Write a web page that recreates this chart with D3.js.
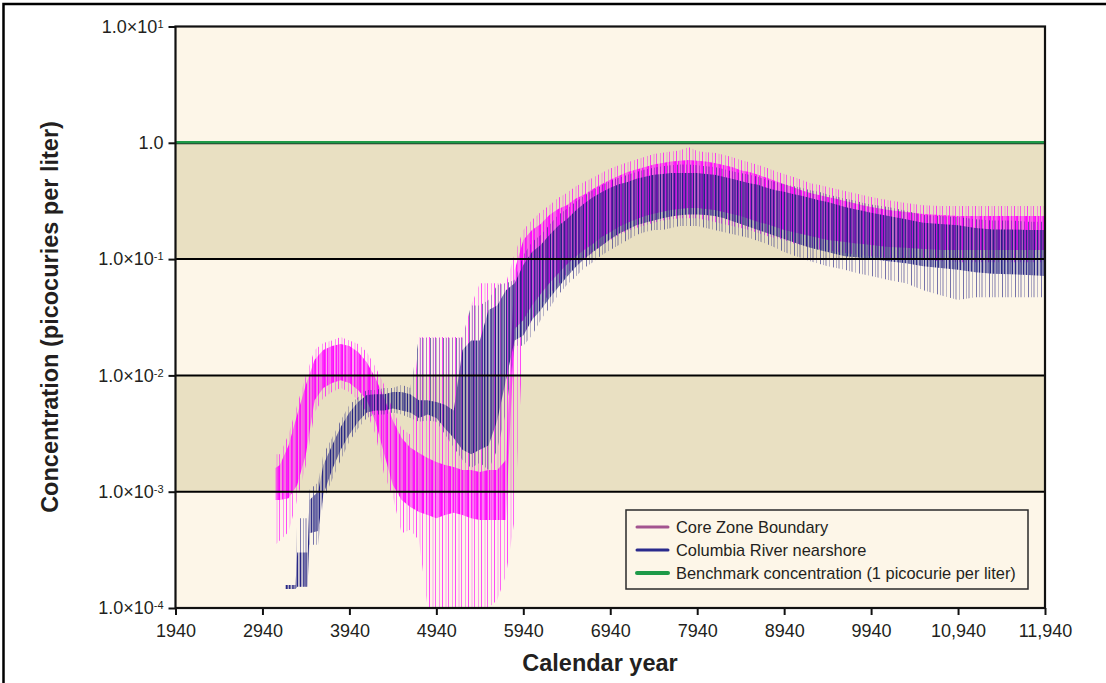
<!DOCTYPE html>
<html><head><meta charset="utf-8">
<script src="https://cdn.jsdelivr.net/npm/d3@7"></script>
<style>
body{margin:0;background:#fff;}
svg{display:block;font-family:"Liberation Sans",Arial,Helvetica,sans-serif;}
</style></head>
<body><svg id="c" width="1106" height="683"></svg>
<script>
// ---------------- data ----------------
const coreYears = [3090,3140,3240,3340,3440,3540,3640,3740,3840,3940,
4040,4140,4240,4340,4440,4540,4640,4740,4840,4940,
5040,5140,5240,5340,5440,5540,5640,5740,5840,5940,
6040,6140,6240,6340,6440,6540,6640,6740,6840,6940,
7040,7140,7240,7340,7440,7540,7640,7740,7840,7940,
8040,8140,8240,8340,8440,8540,8640,8740,8840,8940,
9040,9140,9240,9340,9440,9540,9640,9740,9840,9940,
10140,10340,10540,10740,10940,11140,11340,11540,11740,11940];
const coreLow = [8.5e-4,8.5e-4,8.8e-4,1.14e-3,2.1e-3,6.1e-3,7.8e-3,8.6e-3,9.1e-3,8.6e-3,
7.5e-3,6.1e-3,4.0e-3,2.1e-3,1.14e-3,8.5e-4,7.4e-4,6.7e-4,6.3e-4,5.9e-4,
6.3e-4,6.6e-4,6.3e-4,5.9e-4,5.7e-4,5.7e-4,5.7e-4,5.7e-4,0.025,0.03,
0.04,0.05,0.062,0.075,0.09,0.105,0.12,0.135,0.155,0.17,
0.19,0.205,0.22,0.235,0.245,0.255,0.265,0.27,0.275,0.275,
0.27,0.264,0.254,0.244,0.235,0.221,0.208,0.20,0.189,0.178,
0.171,0.164,0.158,0.152,0.146,0.143,0.140,0.137,0.135,0.132,
0.127,0.125,0.122,0.12,0.12,0.12,0.12,0.12,0.12,0.12];
const coreHigh = [1.6e-3,1.7e-3,2.5e-3,4.6e-3,8.3e-3,0.0136,0.0165,0.0179,0.0186,0.0179,
0.0159,0.013,9.5e-3,6.4e-3,4.1e-3,2.9e-3,2.4e-3,2.15e-3,1.95e-3,1.8e-3,
1.7e-3,1.63e-3,1.54e-3,1.54e-3,1.48e-3,1.54e-3,1.54e-3,1.87e-3,0.08,0.146,
0.178,0.20,0.239,0.27,0.29,0.33,0.36,0.40,0.44,0.48,
0.52,0.56,0.59,0.62,0.65,0.67,0.69,0.70,0.71,0.70,
0.69,0.67,0.645,0.62,0.58,0.56,0.53,0.50,0.47,0.44,
0.417,0.39,0.37,0.356,0.342,0.33,0.316,0.303,0.29,0.28,
0.264,0.254,0.244,0.239,0.235,0.235,0.235,0.235,0.235,0.235];
const coreMin = [3.5e-4,3.8e-4,4.5e-4,8.5e-4,1.7e-3,4.8e-3,6.4e-3,7.2e-3,7.8e-3,7.2e-3,
6.1e-3,4.8e-3,3.1e-3,1.4e-3,9.0e-4,4.4e-4,4.7e-4,3.8e-4,1e-4,1e-4,
1e-4,1e-4,1e-4,1e-4,1e-4,1e-4,1.17e-4,1.9e-4,5.7e-4,0.022,
0.03,0.04,0.05,0.06,0.075,0.088,0.10,0.113,0.13,0.145,
0.16,0.175,0.185,0.195,0.205,0.215,0.22,0.225,0.225,0.225,
0.217,0.208,0.20,0.193,0.185,0.178,0.168,0.158,0.152,0.146,
0.137,0.132,0.127,0.122,0.12,0.115,0.113,0.11,0.108,0.106,
0.102,0.10,0.098,0.096,0.094,0.094,0.094,0.094,0.094,0.094];
const coreMax = [2.1e-3,2.1e-3,3.1e-3,5.6e-3,0.010,0.0165,0.019,0.020,0.0214,0.020,
0.0186,0.0159,0.0118,8.3e-3,5.0e-3,3.5e-3,3.1e-3,0.0214,0.0214,0.0214,
0.0214,0.0214,0.0214,0.040,0.062,0.062,0.062,0.062,0.11,0.178,
0.217,0.254,0.29,0.335,0.37,0.42,0.46,0.50,0.55,0.60,
0.64,0.68,0.72,0.76,0.80,0.82,0.84,0.86,0.92,0.85,
0.83,0.82,0.79,0.755,0.71,0.68,0.645,0.61,0.57,0.54,
0.51,0.48,0.45,0.435,0.417,0.40,0.385,0.37,0.356,0.342,
0.32,0.303,0.29,0.286,0.286,0.286,0.286,0.286,0.286,0.286];

const riverYears = [3200,3320,3340,3460,3480,3580,3640,3740,3840,3940,
4040,4140,4240,4340,4440,4540,4640,4740,4840,4940,
5040,5140,5240,5340,5440,5540,5640,5740,5840,5940,
6040,6140,6240,6340,6440,6540,6640,6740,6840,6940,
7040,7140,7240,7340,7440,7540,7640,7740,7840,7940,
8040,8140,8240,8340,8440,8540,8640,8740,8840,8940,
9040,9140,9240,9340,9440,9540,9640,9740,9840,9940,
10140,10340,10540,10740,10940,11140,11340,11540,11740,11940];
const riverLow = [1.46e-4,1.46e-4,1.52e-4,1.52e-4,4.4e-4,4.6e-4,9.4e-4,1.54e-3,2.3e-3,3.1e-3,
4.0e-3,4.8e-3,5.0e-3,5.0e-3,5.2e-3,5.0e-3,4.8e-3,4.3e-3,4.6e-3,4.3e-3,
3.5e-3,2.9e-3,2.3e-3,2.1e-3,2.3e-3,2.5e-3,4.1e-3,9.1e-3,0.020,0.022,
0.030,0.0365,0.046,0.057,0.07,0.085,0.10,0.115,0.13,0.148,
0.165,0.18,0.195,0.205,0.215,0.225,0.232,0.238,0.242,0.242,
0.239,0.235,0.226,0.213,0.20,0.189,0.178,0.168,0.158,0.149,
0.140,0.132,0.125,0.12,0.115,0.11,0.106,0.104,0.102,0.10,
0.096,0.092,0.087,0.084,0.081,0.077,0.075,0.074,0.073,0.0716];
const riverHigh = [1.58e-4,1.58e-4,3.0e-4,3.0e-4,8.5e-4,1.0e-3,1.7e-3,2.5e-3,3.6e-3,4.8e-3,
5.9e-3,6.8e-3,6.9e-3,6.9e-3,7.2e-3,7.2e-3,6.9e-3,6.1e-3,6.1e-3,5.9e-3,
5.6e-3,5.0e-3,0.0165,0.020,0.020,0.0365,0.040,0.054,0.062,0.089,
0.115,0.132,0.161,0.193,0.22,0.26,0.30,0.34,0.375,0.41,
0.44,0.46,0.49,0.51,0.53,0.54,0.55,0.55,0.55,0.55,
0.54,0.53,0.51,0.49,0.47,0.45,0.435,0.41,0.39,0.38,
0.363,0.35,0.335,0.32,0.31,0.295,0.28,0.27,0.26,0.25,
0.235,0.22,0.205,0.20,0.195,0.185,0.18,0.18,0.178,0.178];
const riverMin = [1.46e-4,1.46e-4,1.52e-4,1.52e-4,3.5e-4,3.5e-4,8.5e-4,1.26e-3,1.87e-3,2.7e-3,
3.5e-3,4.3e-3,4.6e-3,4.6e-3,4.8e-3,4.6e-3,4.3e-3,4.0e-3,4.1e-3,4.0e-3,
3.1e-3,2.4e-3,1.87e-3,1.6e-3,1.77e-3,1.54e-3,2.3e-3,4.8e-3,0.018,0.018,
0.022,0.030,0.038,0.049,0.06,0.07,0.084,0.094,0.108,0.12,
0.132,0.146,0.161,0.171,0.178,0.178,0.185,0.193,0.193,0.193,
0.185,0.178,0.171,0.164,0.158,0.152,0.143,0.135,0.125,0.115,
0.108,0.102,0.096,0.091,0.087,0.084,0.081,0.077,0.074,0.0716,
0.066,0.062,0.054,0.049,0.0445,0.047,0.047,0.047,0.047,0.047];
const riverMax = [1.58e-4,1.58e-4,5.9e-4,5.9e-4,1.04e-3,1.2e-3,2.1e-3,2.9e-3,4.1e-3,5.6e-3,
6.5e-3,7.5e-3,7.5e-3,7.8e-3,7.8e-3,8.3e-3,7.8e-3,0.021,0.021,0.021,
0.021,0.021,0.021,0.040,0.040,0.0445,0.060,0.062,0.066,0.108,
0.14,0.161,0.196,0.239,0.27,0.31,0.35,0.39,0.43,0.47,
0.50,0.53,0.56,0.59,0.61,0.63,0.64,0.65,0.65,0.64,
0.63,0.62,0.595,0.57,0.55,0.53,0.51,0.48,0.46,0.44,
0.425,0.41,0.39,0.38,0.36,0.345,0.33,0.32,0.305,0.295,
0.28,0.26,0.24,0.235,0.23,0.22,0.215,0.215,0.21,0.21];

const benchmark = 1;
const yTicks = [10, 1, 0.1, 0.01, 0.001, 0.0001];
const yTickBase = ["1.0×10", "1.0", "1.0×10", "1.0×10", "1.0×10", "1.0×10"];
const yTickExp  = ["1", "", "-1", "-2", "-3", "-4"];
const xTicks = [1940,2940,3940,4940,5940,6940,7940,8940,9940,10940,11940];
const xTickLabels = ["1940","2940","3940","4940","5940","6940","7940","8940","9940","10,940","11,940"];
const seriesNames = ["Core Zone Boundary","Columbia River nearshore","Benchmark concentration (1 picocurie per liter)"];

// ---------------- chart ----------------
const svg = d3.select("#c");
const x = d3.scaleLinear().domain([1940, 11940]).range([175.5, 1045]);
const y = d3.scaleLog().domain([1e-4, 10]).range([608, 26.5]);
const X0 = x.range()[0], X1 = x.range()[1], Y0 = y.range()[1], Y1 = y.range()[0];

const cream = "#fdf6e8", tan = "#e9e0c2";
const magenta = "#ff00ff", navy = "#1c1c80", green = "#1e9a48";
const FONT = "'Liberation Sans',Arial,sans-serif";

// outer frame (top & left visible)
svg.append("rect").attr("x",3.5).attr("y",4).attr("width",1120).attr("height",700)
  .attr("fill","none").attr("stroke","#000").attr("stroke-width",2.5);

// background bands
const bands = d3.pairs(yTicks);
svg.append("g").selectAll("rect").data(bands).join("rect")
  .attr("x", X0).attr("width", X1 - X0)
  .attr("y", d => y(d[0])).attr("height", d => y(d[1]) - y(d[0]))
  .attr("fill", (d,i) => i % 2 === 0 ? cream : tan);

// stripe patterns (texture of dense vertical sample lines)
const defs = svg.append("defs");
function stripe(id, color, period, lines) {
  const p = defs.append("pattern").attr("id", id).attr("patternUnits","userSpaceOnUse")
    .attr("width", period).attr("height", 8);
  lines.forEach(l => p.append("rect").attr("x", l[0]).attr("width", l[1]).attr("height", 8)
    .attr("fill", color).attr("fill-opacity", l[2]));
}
stripe("pmBulk", magenta, 9, [[0,1,0.95],[1.5,1,0.7],[3,1,0.9],[4,1,0.5],[5.5,1,1],[7,1,0.65],[8,1,0.85]]);
stripe("pmEnv", magenta, 13, [[0,1,0.7],[3.5,1,0.35],[6,1,0.6],[10,1,0.4]]);
stripe("pnBulk", navy, 11, [[0,1,0.95],[1.6,1,0.6],[3,1,0.9],[4.2,1,0.45],[5.8,1,0.85],[7,1,0.6],[8.5,1,1],[9.6,1,0.5]]);
stripe("pnEnv", navy, 13, [[1,1,0.6],[4,1,0.35],[6.5,1,0.55],[10,1,0.3]]);

const clip = defs.append("clipPath").attr("id","plotclip");
clip.append("rect").attr("x",X0).attr("y",Y0).attr("width",X1-X0).attr("height",Y1-Y0);

function rows(yrs, lo, hi, mn, mx) {
  return yrs.map((yr,i) => ({year: yr, lo: lo[i], hi: hi[i], min: mn[i], max: mx[i]}));
}
const core = rows(coreYears, coreLow, coreHigh, coreMin, coreMax);
const river = rows(riverYears, riverLow, riverHigh, riverMin, riverMax);

const areaEnv = d3.area().x(d => x(d.year)).y0(d => y(d.min)).y1(d => y(d.max));
const areaBulk = d3.area().x(d => x(d.year)).y0(d => y(d.lo)).y1(d => y(d.hi));

const plot = svg.append("g").attr("clip-path","url(#plotclip)");
// Core Zone Boundary
plot.append("path").datum(core).attr("d", areaEnv).attr("fill","url(#pmEnv)");
plot.append("path").datum(core).attr("d", areaBulk).attr("fill","url(#pmBulk)");
// Columbia River nearshore
plot.append("path").datum(river).attr("d", areaEnv).attr("fill","url(#pnEnv)");
plot.append("path").datum(river).attr("d", areaBulk).attr("fill","url(#pnBulk)");

// grid lines
svg.append("g").selectAll("line").data(yTicks.slice(2,5)).join("line")
  .attr("x1", X0).attr("x2", X1).attr("y1", d => y(d)).attr("y2", d => y(d))
  .attr("stroke","#000").attr("stroke-width",2);
// benchmark line
svg.append("line").attr("x1",X0).attr("x2",X1).attr("y1",y(benchmark)+0.8).attr("y2",y(benchmark)+0.8)
  .attr("stroke","#222").attr("stroke-width",1.5);
svg.append("line").attr("x1",X0).attr("x2",X1).attr("y1",y(benchmark)-0.6).attr("y2",y(benchmark)-0.6)
  .attr("stroke",green).attr("stroke-width",2.6);

// plot border
svg.append("rect").attr("x",X0).attr("y",Y0).attr("width",X1-X0).attr("height",Y1-Y0)
  .attr("fill","none").attr("stroke","#111").attr("stroke-width",2.2);

// axes
const yAxis = d3.axisLeft(y).tickValues(yTicks).tickSize(7).tickPadding(5).tickFormat(() => "");
const gy = svg.append("g").attr("transform",`translate(${X0},0)`).call(yAxis);
gy.attr("font-size",18).attr("font-family",FONT);
gy.select(".domain").remove();
gy.selectAll(".tick line").attr("stroke","#111").attr("stroke-width",2);
gy.selectAll(".tick text").each(function(d,i){
  const t = d3.select(this).attr("fill","#231f20");
  t.text(null);
  t.append("tspan").text(yTickBase[i]);
  if (yTickExp[i]) t.append("tspan").attr("dy","-0.45em").attr("font-size",11).text(yTickExp[i]);
});

const xAxis = d3.axisBottom(x).tickValues(xTicks).tickSize(7).tickPadding(9)
  .tickFormat((d,i) => xTickLabels[i]);
const gx = svg.append("g").attr("transform",`translate(0,${Y1})`).call(xAxis);
gx.attr("font-size",18).attr("font-family",FONT);
gx.select(".domain").remove();
gx.selectAll(".tick line").attr("stroke","#111").attr("stroke-width",2);
gx.selectAll(".tick text").attr("fill","#231f20");

// axis titles
svg.append("text").attr("x",600).attr("y",671).attr("text-anchor","middle")
  .attr("font-size",23.5).attr("font-weight","bold").attr("fill","#231f20").text("Calendar year");
svg.append("text").attr("transform",`translate(58,317) rotate(-90)`).attr("text-anchor","middle")
  .attr("font-size",23.5).attr("font-weight","bold").attr("fill","#231f20").text("Concentration (picocuries per liter)");

// legend
const lg = svg.append("g").attr("transform","translate(626,510)");
lg.append("rect").attr("width",402).attr("height",79).attr("fill",cream).attr("stroke","#2a2a2a").attr("stroke-width",1.5);
const lgColors = ["#a3548f", "#2a2a8c", green];
const lgY = [17, 40, 63];
seriesNames.forEach((n,i) => {
  lg.append("line").attr("x1",11).attr("x2",42).attr("y1",lgY[i]).attr("y2",lgY[i])
    .attr("stroke",lgColors[i]).attr("stroke-width", i===2 ? 4 : 3).attr("stroke-linecap","round");
  lg.append("text").attr("x",50).attr("y",lgY[i]+5.5).attr("font-size",16.4).attr("fill","#231f20").text(n);
});
</script>
</body></html>
